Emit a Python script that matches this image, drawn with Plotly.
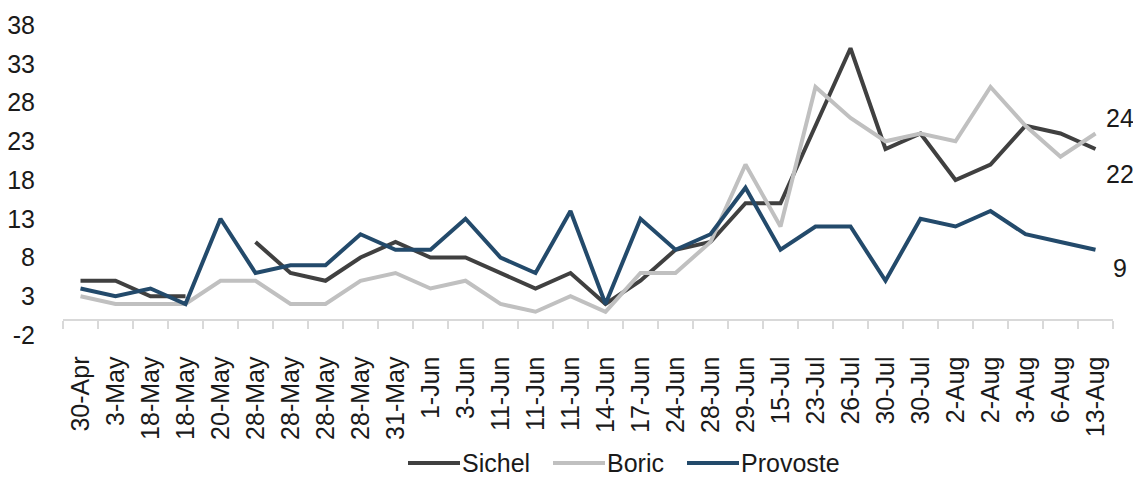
import plotly.graph_objects as go

dates = ["30-Apr", "3-May", "18-May", "18-May", "20-May", "28-May", "28-May", "28-May",
         "28-May", "31-May", "1-Jun", "3-Jun", "11-Jun", "11-Jun", "11-Jun", "14-Jun",
         "17-Jun", "24-Jun", "28-Jun", "29-Jun", "15-Jul", "23-Jul", "26-Jul", "30-Jul",
         "30-Jul", "2-Aug", "2-Aug", "3-Aug", "6-Aug", "13-Aug"]

sichel = [5, 5, 3, 3, None, 10, 6, 5, 8, 10, 8, 8, 6, 4, 6, 2, 5, 9, 10, 15,
          15, 25, 35, 22, 24, 18, 20, 25, 24, 22]
boric = [3, 2, 2, 2, 5, 5, 2, 2, 5, 6, 4, 5, 2, 1, 3, 1, 6, 6, 10, 20,
         12, 30, 26, 23, 24, 23, 30, 25, 21, 24]
provoste = [4, 3, 4, 2, 13, 6, 7, 7, 11, 9, 9, 13, 8, 6, 14, 2, 13, 9, 11, 17,
            9, 12, 12, 5, 13, 12, 14, 11, 10, 9]

y_ticks = [-2, 3, 8, 13, 18, 23, 28, 33, 38]

FONT = "Liberation Sans Narrow, Arial Narrow, Liberation Sans, sans-serif"
FS = 25
TXT = "#1a1a1a"
AX = "#d9d9d9"

W, H = 1133, 477
ML, MR, MT, MB = 63, 20, 25, 142
PW, PH = W - ML - MR, H - MT - MB

series = [
    ("Sichel", sichel, "#404040", -25, 408),
    ("Boric", boric, "#c0c0c0", 16, 553),
    ("Provoste", provoste, "#234a6b", -18, 687),
]

idx = list(range(len(dates)))
fig = go.Figure()
for name, vals, col, _, _ in series:
    fig.add_trace(go.Scatter(x=idx, y=vals, name=name, mode="lines",
                             line=dict(color=col, width=4), connectgaps=False,
                             showlegend=False))

# end-of-line value labels
for name, vals, col, ysh, _ in series:
    fig.add_annotation(x=idx[-1], y=vals[-1], text=str(vals[-1]), showarrow=False,
                       xanchor="center", yanchor="middle", xshift=24, yshift=ysh,
                       font=dict(family=FONT, size=FS, color=TXT))

# legend (drawn manually so the line samples match the original length)
leg_y = (MT + PH - 463) / PH
for name, vals, col, _, px in series:
    x0 = (px - ML) / PW
    x1 = (px + 52 - ML) / PW
    fig.add_shape(type="line", xref="paper", yref="paper", x0=x0, x1=x1,
                  y0=leg_y, y1=leg_y, line=dict(color=col, width=4))
    fig.add_annotation(xref="paper", yref="paper", x=x1, y=leg_y, text=name,
                       showarrow=False, xanchor="left", yanchor="middle", xshift=0,
                       font=dict(family=FONT, size=FS, color=TXT))

ymin, ymax = y_ticks[0], y_ticks[-1]
fig.update_layout(
    width=W, height=H,
    margin=dict(l=ML, r=MR, t=MT, b=MB, autoexpand=False),
    paper_bgcolor="white", plot_bgcolor="white",
    font=dict(family=FONT, size=FS, color=TXT),
    showlegend=False,
    xaxis=dict(range=[-0.5, len(dates) - 0.5], tickmode="array", tickvals=idx,
               ticktext=dates, tickangle=-90, ticks="outside", ticklen=26,
               tickcolor="rgba(0,0,0,0)", showline=True, linecolor=AX, linewidth=2,
               showgrid=False, zeroline=False, anchor="free", automargin=False,
               position=(0 - ymin) / (ymax - ymin),
               minor=dict(tickmode="array", tickvals=[i - 0.5 for i in idx] + [idx[-1] + 0.5],
                          ticks="outside", ticklen=8, tickcolor=AX, tickwidth=1.5,
                          showgrid=False),
               tickfont=dict(family=FONT, size=FS, color=TXT)),
    yaxis=dict(range=[ymin, ymax], tickmode="array", tickvals=y_ticks,
               ticktext=[str(v) for v in y_ticks], automargin=False,
               ticks="outside", ticklen=22, tickcolor="rgba(0,0,0,0)",
               showline=False, showgrid=False, zeroline=False,
               tickfont=dict(family=FONT, size=FS, color=TXT)),
)

fig.write_html("out.html")
